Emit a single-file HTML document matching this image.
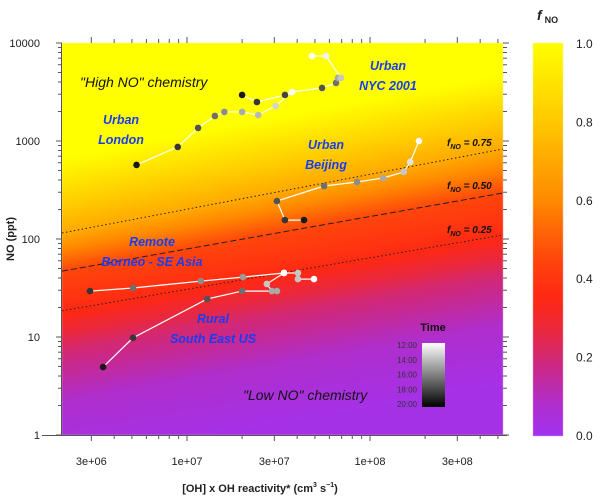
<!DOCTYPE html>
<html><head><meta charset="utf-8">
<style>
html,body{margin:0;padding:0;background:#fff;}
#wrap{position:relative;width:600px;height:497px;overflow:hidden;font-family:"Liberation Sans",Arial,sans-serif;}
canvas{position:absolute;left:0;top:0;}
svg{position:absolute;left:0;top:0;}
</style></head>
<body>
<div id="wrap">
<canvas id="field" width="600" height="497"></canvas>
<svg id="chart" width="600" height="497" xmlns="http://www.w3.org/2000/svg"></svg>
</div>
<script>
// ---- data ----
const xTickVals = [3e6, 1e7, 3e7, 1e8, 3e8];
const xTickLabels = ["3e+06", "1e+07", "3e+07", "1e+08", "3e+08"];
const yTickVals = [1, 10, 100, 1000, 10000];
const yTickLabels = ["1", "10", "100", "1000", "10000"];
const cbarVals = [0, 0.2, 0.4, 0.6, 0.8, 1.0];
const cbarLabels = ["0.0", "0.2", "0.4", "0.6", "0.8", "1.0"];
const timeLabels = ["12:00", "14:00", "16:00", "18:00", "20:00"];

const londonX = [5.3e6, 8.9e6, 1.15e7, 1.42e7, 1.6e7, 2.0e7, 2.45e7, 3.05e7, 3.75e7];
const londonNO = [570, 870, 1360, 1800, 1980, 1980, 1840, 2280, 3160];
const londonT = [20, 19, 18, 17, 16, 15, 14.5, 13.5, 12];

const nycX = [2.0e7, 2.41e7, 3.43e7, 3.75e7, 5.47e7, 6.52e7, 6.68e7, 6.93e7, 5.75e7, 4.82e7];
const nycNO = [2950, 2500, 2950, 3160, 3480, 3910, 4400, 4400, 7360, 7360];
const nycT = [20, 19, 18.5, 12, 18, 17, 15, 14, 12.5, 12];

const beijingX = [1.85e8, 1.66e8, 1.53e8, 1.18e8, 8.49e7, 5.61e7, 3.1e7, 3.43e7, 4.36e7];
const beijingNO = [1000, 611, 483, 419, 382, 347, 244, 156, 156];
const beijingT = [12, 13, 14, 15, 16, 17, 18, 19, 20];

const borneoX = [2.95e6, 5.07e6, 1.19e7, 2.02e7, 3.39e7, 4.04e7, 4.04e7, 4.94e7];
const borneoNO = [29.4, 31.6, 37.2, 40.9, 45, 45, 39, 39];
const borneoT = [19, 17, 16, 15.5, 12.5, 14, 14, 12];

const seusX = [3.48e6, 5.07e6, 1.29e7, 2.0e7, 3.1e7, 2.91e7, 2.73e7, 3.39e7];
const seusNO = [4.94, 9.8, 24.4, 29.4, 29.4, 29.4, 34.8, 45];
const seusT = [20, 19, 18, 17, 15, 15, 14, 12];

// f_NO contour lines: NO value at left and right edges of plot
const contourF = [0.75, 0.5, 0.25];
const contourNOLeft = [115, 47, 18.5];
const contourNORight = [830, 295, 110];

// ---- axes ----
const L = 62, R = 503, T = 43, B = 435;
const xLogMin = 7 - (187 - 62) / 183, xLogMax = 7 + (503 - 187) / 183;
function xs(v) { return L + (Math.log10(v) - xLogMin) / (xLogMax - xLogMin) * (R - L); }
function ys(v) { return B - Math.log10(v) / 4 * (B - T); }
const CBL = 533, CBR = 563;
function cy(f) { return B - f * (B - T); }

const stops = [[0, [162, 50, 240]], [0.08, [175, 46, 205]], [0.18, [205, 40, 130]], [0.27, [235, 40, 60]], [0.35, [255, 40, 20]], [0.45, [255, 70, 12]], [0.6, [255, 138, 0]], [0.8, [255, 200, 0]], [1.0, [255, 255, 0]]];
function cmap(f) {
  f = Math.max(0, Math.min(1, f));
  for (let i = 1; i < stops.length; i++) {
    if (f <= stops[i][0]) {
      const a = stops[i - 1], b = stops[i], t = (f - a[0]) / (b[0] - a[0]);
      return a[1].map((c, k) => Math.round(c + (b[1][k] - c) * t));
    }
  }
  return stops[stops.length - 1][1];
}

// field shading, piecewise relative to contour lines
const ctx = document.getElementById('field').getContext('2d');
const img = ctx.createImageData(R - L, B - T);
function lineY(i, x) { const a = ys(contourNOLeft[i]), b = ys(contourNORight[i]); return a + (b - a) * (x - L) / (R - L); }
function interp(y, ya, fa, yb, fb) { return fa + (fb - fa) * (y - ya) / (yb - ya); }
for (let x = 0; x < R - L; x++) {
  const X = x + L;
  const y75 = lineY(0, X), y50 = lineY(1, X), y25 = lineY(2, X);
  const anchors = [[y75 - 75, 1.0], [y75, 0.7], [y50, 0.45], [y25, 0.36], [y25 + 14, 0.3], [y25 + 40, 0.2], [y25 + 90, 0.08], [y25 + 150, 0.02]];
  for (let y = 0; y < B - T; y++) {
    const Y = y + T;
    let f;
    if (Y <= anchors[0][0]) f = 1;
    else if (Y >= anchors[anchors.length - 1][0]) f = 0.02;
    else {
      for (let k = 1; k < anchors.length; k++) {
        if (Y <= anchors[k][0]) { f = interp(Y, anchors[k - 1][0], anchors[k - 1][1], anchors[k][0], anchors[k][1]); break; }
      }
    }
    const c = cmap(f);
    const i = (y * (R - L) + x) * 4;
    img.data[i] = c[0]; img.data[i + 1] = c[1]; img.data[i + 2] = c[2]; img.data[i + 3] = 255;
  }
}
ctx.putImageData(img, L, T);
// colorbar
for (let y = T; y <= B; y++) {
  const c = cmap((B - y) / (B - T));
  ctx.fillStyle = `rgb(${c[0]},${c[1]},${c[2]})`;
  ctx.fillRect(CBL, y, CBR - CBL, 1);
}

// ---- svg ----
const NS = 'http://www.w3.org/2000/svg';
const svg = document.getElementById('chart');
function el(tag, attrs, parent) {
  const e = document.createElementNS(NS, tag);
  for (const k in attrs) e.setAttribute(k, attrs[k]);
  (parent || svg).appendChild(e);
  return e;
}
function txt(s, attrs, name) {
  const e = el('text', attrs);
  e.textContent = s;
  
  
  return e;
}

// axis frame ticks
const axG = el('g', { stroke: '#555', 'stroke-width': 1 });


el('line', { x1: L - 0.5, y1: T, x2: L - 0.5, y2: B + 0.5 }, axG);
el('line', { x1: L - 20, y1: B + 0.5, x2: R + 4, y2: B + 0.5 }, axG);
for (let d = 6; d <= 8; d++) {
  for (let m = 1; m <= 9; m++) {
    const v = m * Math.pow(10, d);
    const x = xs(v);
    if (x < L - 0.1 || x > R + 0.1) continue;
    const len = (m === 1 || m === 3) ? 6 : 4;
    el('line', { x1: x, y1: B, x2: x, y2: B + len }, axG);
    el('line', { x1: x, y1: T, x2: x, y2: T - len }, axG);
  }
}
for (let d = 0; d <= 4; d++) {
  for (let m = 1; m <= 9; m++) {
    const v = m * Math.pow(10, d);
    if (v > 10000) continue;
    const y = ys(v);
    const len = m === 1 ? 6 : 4;
    el('line', { x1: L, y1: y, x2: L - len, y2: y }, axG);
    el('line', { x1: R, y1: y, x2: R + len, y2: y }, axG);
  }
}
xTickVals.forEach((v, i) => {
  txt(xTickLabels[i], { x: xs(v), y: 465, 'font-size': 11, 'text-anchor': 'middle', fill: '#222' }, 'x-tick-label');
});
yTickVals.forEach((v, i) => {
  txt(yTickLabels[i], { x: 40, y: ys(v) + 4, 'font-size': 11, 'text-anchor': 'end', fill: '#222' }, 'y-tick-label');
});
const xt = txt('', { x: 260, y: 492, 'font-size': 11, 'font-weight': 'bold', 'text-anchor': 'middle', fill: '#222' }, 'x-axis-title');
xt.innerHTML = '[OH] x OH reactivity* (cm<tspan dy="-5" font-size="7">3</tspan><tspan dy="5"> s</tspan><tspan dy="-5" font-size="7">−1</tspan><tspan dy="5">)</tspan>';
txt('NO (ppt)', { x: 14, y: 239, 'font-size': 11, 'font-weight': 'bold', 'text-anchor': 'middle', fill: '#222', transform: 'rotate(-90 14 239)' }, 'y-axis-title');

// colorbar labels
cbarVals.forEach((v, i) => {
  txt(cbarLabels[i], { x: 576, y: cy(v) + 5, 'font-size': 12, fill: '#222' }, 'colorbar-tick-label');
});
const ct = txt('', { x: 537, y: 20, 'font-size': 14, 'font-weight': 'bold', 'font-style': 'italic', fill: '#222' }, 'colorbar-title');
ct.innerHTML = 'f<tspan dx="3" dy="3" font-size="9" font-style="normal">NO</tspan>';

// contour lines
const dashes = ['1.5,2.5', '6,3', '1.5,2.5'];
const labelY = [146, 189, 233];
contourF.forEach((f, i) => {
  const ln = el('line', { x1: L, y1: ys(contourNOLeft[i]), x2: R, y2: ys(contourNORight[i]), stroke: '#222', 'stroke-width': 1, 'stroke-dasharray': dashes[i] });
  
  
  const lab = txt('', { x: 447, y: labelY[i], 'font-size': 10, 'font-weight': 'bold', 'font-style': 'italic', fill: '#111' }, 'contour-label');
  lab.innerHTML = 'f<tspan dy="3" font-size="7">NO</tspan><tspan dy="-3"> = ' + f.toFixed(2) + '</tspan>';
});

// series
function grey(t) { const g = Math.round(255 - (t - 12) / 8 * 230); return `rgb(${g},${g},${g})`; }
function series(X, Y, Tm, name) {
  const g = el('g', {});
  
  
  const pts = X.map((x, i) => xs(x).toFixed(1) + ',' + ys(Y[i]).toFixed(1)).join(' ');
  el('polyline', { points: pts, fill: 'none', stroke: '#fff', 'stroke-width': 1.2 }, g);
  X.forEach((x, i) => {
    const c = el('circle', { cx: xs(x), cy: ys(Y[i]), r: 3.3, fill: grey(Tm[i]) }, g);
    
    
  });
}
series(londonX, londonNO, londonT, 'london-series');
series(nycX, nycNO, nycT, 'nyc-series');
series(beijingX, beijingNO, beijingT, 'beijing-series');
series(borneoX, borneoNO, borneoT, 'borneo-series');
series(seusX, seusNO, seusT, 'se-us-series');

// annotations
const ann = { 'font-size': 12.5, 'font-weight': 'bold', 'font-style': 'italic', fill: '#1a3cf0', 'text-anchor': 'middle' };
txt('Urban', Object.assign({ x: 121, y: 124 }, ann), 'london-label');
txt('London', Object.assign({ x: 121, y: 144 }, ann), 'london-label');
txt('Urban', Object.assign({ x: 388, y: 70 }, ann), 'nyc-label');
txt('NYC 2001', Object.assign({ x: 388, y: 90 }, ann), 'nyc-label');
txt('Urban', Object.assign({ x: 326, y: 149 }, ann), 'beijing-label');
txt('Beijing', Object.assign({ x: 326, y: 169 }, ann), 'beijing-label');
txt('Remote', Object.assign({ x: 152, y: 246 }, ann), 'borneo-label');
txt('Borneo - SE Asia', Object.assign({ x: 152, y: 266 }, ann), 'borneo-label');
txt('Rural', Object.assign({ x: 213, y: 323 }, ann), 'se-us-label');
txt('South East US', Object.assign({ x: 213, y: 343 }, ann), 'se-us-label');
txt('"High NO" chemistry', { x: 80, y: 87, 'font-size': 14, 'font-style': 'italic', fill: '#111' }, 'high-no-label');
txt('"Low NO" chemistry', { x: 243, y: 400, 'font-size': 14, 'font-style': 'italic', fill: '#111' }, 'low-no-label');

// time legend
const defs = el('defs', {});
const lg = el('linearGradient', { id: 'tg', x1: 0, y1: 0, x2: 0, y2: 1 }, defs);
el('stop', { offset: '0', 'stop-color': '#fff' }, lg);
el('stop', { offset: '1', 'stop-color': '#000' }, lg);
const tb = el('rect', { x: 422, y: 343, width: 23, height: 64, fill: 'url(#tg)' });


txt('Time', { x: 433, y: 331, 'font-size': 11, 'font-weight': 'bold', 'text-anchor': 'middle', fill: '#111' }, 'time-legend-title');
timeLabels.forEach((s, i) => {
  txt(s, { x: 417, y: 348 + i * 14.8, 'font-size': 8, 'text-anchor': 'end', fill: '#333' }, 'time-legend-label');
});
</script>
</body></html>
